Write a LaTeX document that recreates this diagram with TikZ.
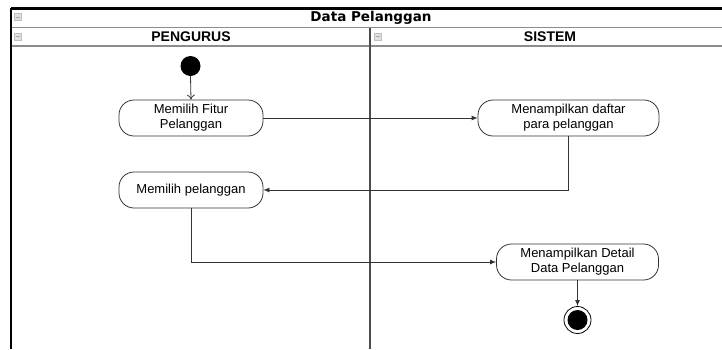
\documentclass[tikz,border=0pt]{standalone}
\usepackage{fontspec}
\setmainfont{Liberation Sans}
\newfontfamily\titlefont{DejaVu Sans}
\usetikzlibrary{arrows.meta}
\begin{document}
\begin{tikzpicture}[x=1pt,y=-1pt,
  actbox/.style={draw=black!80, line width=0.8pt, rounded corners=15pt, fill=white,
    minimum height=36pt, inner sep=0pt, align=center,
    font=\fontsize{13}{15}\selectfont},
  flow/.style={draw=black!80, line width=0.8pt, -{Latex[length=6pt,width=5pt]}},
  openflow/.style={draw=black!80, line width=0.8pt, -{To[length=5pt,width=8pt]}},
  sep/.style={draw=black!45, line width=1.4pt},
  lanehead/.style={font=\bfseries\fontsize{14}{16}\selectfont},
  icon/.style={draw=black!25, fill=black!12, line width=0.4pt, minimum size=7pt, inner sep=0pt}
]
\useasboundingbox (0,0) rectangle (722,349);
\fill[white] (0,0) rectangle (722,349);

% pool frame
\draw[sep] (11,27.5) -- (722,27.5);
\draw[sep] (11,46) -- (722,46);
\draw[black!70, line width=1.2pt] (370,27.5) -- (370,349);
\draw[black, line width=2.4pt] (11,8.5) -- (722,8.5);
\draw[black, line width=1.8pt] (11,7.5) -- (11,349);

% collapse markers
\node[icon] (i1) at (18,17) {};
\node[icon] (i2) at (18,36.5) {};
\node[icon] (i3) at (378,36.5) {};
\foreach \i in {i1,i2,i3}{\draw[black!35, line width=0.6pt] ([xshift=1.5pt]\i.west) -- ([xshift=-1.5pt]\i.east);}

% titles
\node[font=\titlefont\bfseries\fontsize{13.5}{16}\selectfont] (title) at (371,18) {Data Pelanggan};
\node[lanehead] (l1) at (191,37) {PENGURUS};
\node[lanehead] (l2) at (550,37) {SISTEM};

% activities
\fill[black] (190.5,66) circle (10) coordinate (start);
\node[circle, minimum size=20pt, inner sep=0pt] (s) at (190.5,66) {};
\node[actbox, minimum width=144pt] (n1) at (191,118) {Memilih Fitur\\Pelanggan};
\node[actbox, minimum width=181pt] (n2) at (568.5,118) {Menampilkan daftar\\para pelanggan};
\node[actbox, minimum width=144pt] (n3) at (191,190) {Memilih pelanggan};
\node[actbox, minimum width=162pt] (n4) at (577.5,262) {Menampilkan Detail\\Data Pelanggan};
\node[circle, draw=black, line width=0.8pt, minimum size=27pt, inner sep=0pt] (e) at (577.5,320) {};
\fill[black] (e.center) circle (10);

% flows
\draw[openflow] (s.south) -- (n1.north);
\draw[flow] (n1.east) -- (n2.west);
\draw[flow] (n2.south) |- (n3.east);
\draw[flow] (n3.south) |- (n4.west);
\draw[flow] (n4.south) -- (e.north);
\end{tikzpicture}
\end{document}
